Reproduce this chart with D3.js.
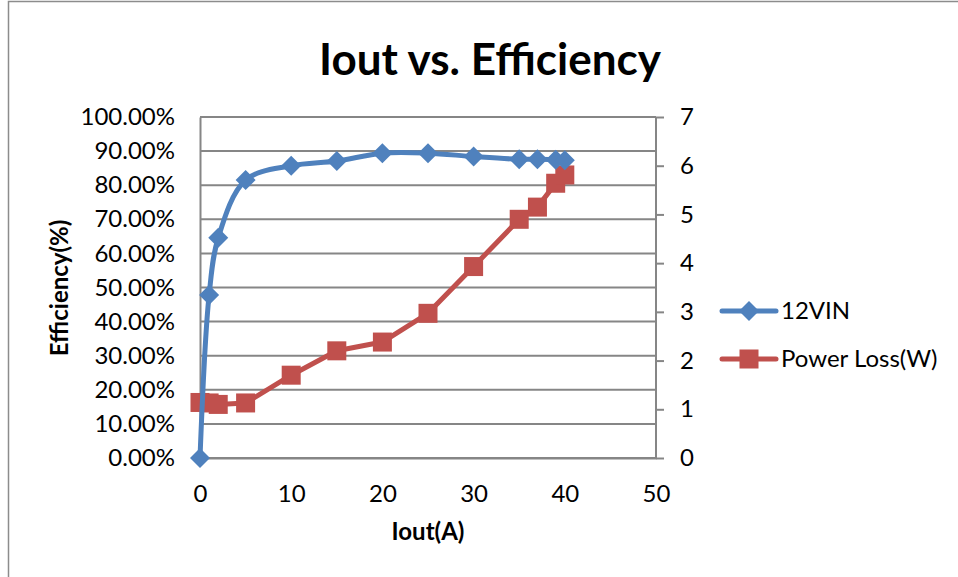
<!DOCTYPE html>
<html>
  <head>
    <meta charset="utf-8">
    <title>Iout vs. Efficiency</title>
    <script src="https://d3js.org/d3.v7.min.js"></script>
    <style>
      body { margin: 0; background: #fff; }
      text { font-family: Lato, "Open Sans", sans-serif; fill: #000; }
    </style>
  </head>
  <body>
    <div id="vis"></div>
    <script>
        const width = 958;
        const height = 577;

        // data
        const iout = [0, 1, 2, 5, 10, 15, 20, 25, 30, 35, 37, 39, 40];
        const efficiency = [0, 0.478, 0.646, 0.815, 0.857, 0.871, 0.894, 0.894, 0.884, 0.876, 0.876, 0.875, 0.873];
        const powerLoss = [1.14, 1.13, 1.10, 1.13, 1.70, 2.20, 2.38, 2.97, 3.93, 4.90, 5.15, 5.64, 5.81];
        const xTicks = [0, 10, 20, 30, 40, 50];
        const yLeftTicks = [0, 0.1, 0.2, 0.3, 0.4, 0.5, 0.6, 0.7, 0.8, 0.9, 1.0];
        const yRightTicks = [0, 1, 2, 3, 4, 5, 6, 7];
        const seriesNames = ["12VIN", "Power Loss(W)"];

        const blue = "#4f81bd";
        const red = "#c0504d";
        const gridColor = "#868686";

        const plot = {left: 200, right: 656, top: 117, bottom: 458};

        let vis = d3.select('#vis')
                    .append('svg')
                    .attr('width', width)
                    .attr('height', height);

        // chart border
        vis.append("rect")
           .attr("x", 8.5).attr("y", 1.5)
           .attr("width", 980).attr("height", 600)
           .attr("fill", "none")
           .attr("stroke", "#8c8c8c")
           .attr("stroke-width", 1.5);

        const x = d3.scaleLinear().domain([0, 50]).range([plot.left, plot.right]);
        const yL = d3.scaleLinear().domain([0, 1]).range([plot.bottom, plot.top]);
        const yR = d3.scaleLinear().domain([0, 7]).range([plot.bottom, plot.top]);

        // gridlines
        vis.append("g")
           .selectAll("line")
           .data(yLeftTicks)
           .enter()
           .append("line")
           .attr("x1", plot.left).attr("x2", plot.right)
           .attr("y1", d => yL(d)).attr("y2", d => yL(d))
           .attr("stroke", gridColor)
           .attr("stroke-width", 2);

        // left axis
        const leftAxis = vis.append("g")
           .attr("transform", `translate(${plot.left},0)`)
           .call(d3.axisLeft(yL).tickValues(yLeftTicks).tickFormat(d3.format(".2%")).tickSize(0).tickPadding(25));
        leftAxis.select(".domain").attr("stroke", gridColor).attr("stroke-width", 2);
        leftAxis.selectAll("text").style("font-size", "24px").attr("fill", "#000");

        // bottom axis
        const bottomAxis = vis.append("g")
           .attr("transform", `translate(0,${plot.bottom})`)
           .call(d3.axisBottom(x).tickValues(xTicks).tickSize(0).tickPadding(27));
        bottomAxis.select(".domain").attr("stroke", gridColor).attr("stroke-width", 2);
        bottomAxis.selectAll("text").style("font-size", "24px").attr("fill", "#000");

        // right axis
        const rightAxis = vis.append("g")
           .attr("transform", `translate(${plot.right},0)`)
           .call(d3.axisRight(yR).tickValues(yRightTicks).tickFormat(d3.format("d")).tickSize(8).tickPadding(16));
        rightAxis.select(".domain").attr("stroke", gridColor).attr("stroke-width", 2).attr("d", `M0,${plot.bottom}V${plot.top}`);
        rightAxis.selectAll(".tick line").attr("stroke", gridColor).attr("stroke-width", 2);
        rightAxis.selectAll("text").style("font-size", "24px").attr("fill", "#000");

        // titles
        vis.append("text")
           .attr("x", 490).attr("y", 75)
           .attr("text-anchor", "middle")
           .style("font-size", "44px").style("font-weight", "bold")
           .text("Iout vs. Efficiency");

        vis.append("text")
           .attr("x", 428).attr("y", 540)
           .attr("text-anchor", "middle")
           .style("font-size", "24px").style("font-weight", "bold")
           .text("Iout(A)");

        vis.append("text")
           .attr("transform", "translate(68,288) rotate(-90)")
           .attr("text-anchor", "middle")
           .style("font-size", "24px").style("font-weight", "bold")
           .text("Efficiency(%)");

        const effData = iout.map((d, i) => ({x: d, y: efficiency[i]}));
        const lossData = iout.map((d, i) => ({x: d, y: powerLoss[i]}));

        // power loss series (straight segments, square markers)
        const lossLine = d3.line().x(d => x(d.x)).y(d => yR(d.y));
        vis.append("path")
           .datum(lossData)
           .attr("d", lossLine)
           .attr("fill", "none")
           .attr("stroke", red)
           .attr("stroke-width", 5)
           .attr("stroke-linejoin", "round");
        vis.append("g")
           .selectAll("rect")
           .data(lossData)
           .enter()
           .append("rect")
           .attr("x", d => x(d.x) - 9.5)
           .attr("y", d => yR(d.y) - 9.5)
           .attr("width", 19).attr("height", 19)
           .attr("fill", red);

        // efficiency series (smoothed, diamond markers)
        const effLine = d3.line().x(d => x(d.x)).y(d => yL(d.y)).curve(d3.curveCatmullRom.alpha(0.5));
        vis.append("path")
           .datum(effData)
           .attr("d", effLine)
           .attr("fill", "none")
           .attr("stroke", blue)
           .attr("stroke-width", 5)
           .attr("stroke-linejoin", "round");
        const diamond = "M0,-10L10,0L0,10L-10,0Z";
        vis.append("g")
           .selectAll("path")
           .data(effData)
           .enter()
           .append("path")
           .attr("d", diamond)
           .attr("transform", d => `translate(${x(d.x)},${yL(d.y)})`)
           .attr("fill", blue);

        // legend
        const legend = vis.append("g");
        const legendY = [311, 359];
        const legendColors = [blue, red];
        seriesNames.forEach((name, i) => {
            const g = legend.append("g").attr("transform", `translate(0,${legendY[i]})`);
            g.append("line")
             .attr("x1", 722).attr("x2", 776)
             .attr("stroke", legendColors[i])
             .attr("stroke-width", 5)
             .attr("stroke-linecap", "round");
            if (i === 0) {
                g.append("path").attr("d", diamond).attr("transform", "translate(749,0)").attr("fill", blue);
            } else {
                g.append("rect").attr("x", 739.5).attr("y", -9.5).attr("width", 19).attr("height", 19).attr("fill", red);
            }
            g.append("text")
             .attr("x", 781).attr("y", 8)
             .style("font-size", "24px")
             .text(name);
        });
    </script>
  </body>
</html>
